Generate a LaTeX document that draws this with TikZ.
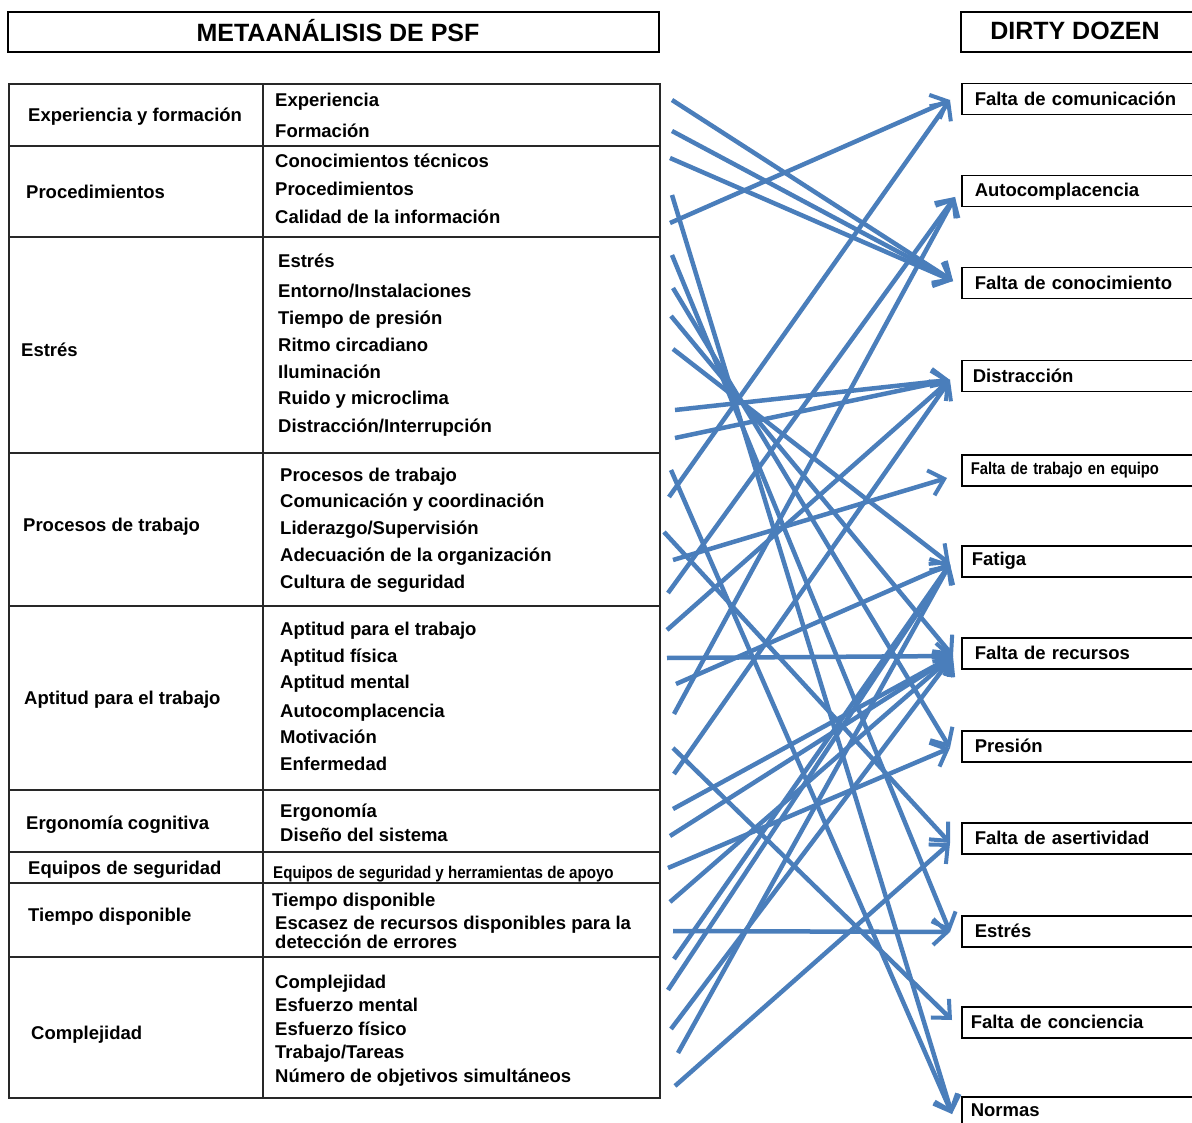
\documentclass[tikz,border=0pt]{standalone}
\usepackage{fontspec}
\setmainfont{Liberation Sans}
\usetikzlibrary{arrows.meta}
\definecolor{arrowblue}{RGB}{74,126,187}
\definecolor{tline}{RGB}{40,40,40}
\begin{document}
\begin{tikzpicture}[x=1pt,y=-1pt,
  itm/.style={anchor=west,inner sep=0pt,yshift=-2.5pt,text height=13pt,text depth=4pt,font=\fontsize{18.5}{20}\selectfont\bfseries},
  head/.style={anchor=center,inner sep=0pt,font=\fontsize{25}{27}\selectfont\bfseries},
  dbox/.style={draw=black,line width=1.5pt,anchor=north west,minimum height=31pt,text width=220pt,inner xsep=13pt,inner ysep=0pt,align=left,font=\fontsize{18.5}{20}\selectfont\bfseries},
  arr/.style={draw=arrowblue,line width=4.5pt,-{Straight Barb[length=14pt,width=26pt,line width=4pt]}}]
\useasboundingbox (0,0) rectangle (1192,1123);
\clip (0,0) rectangle (1192,1123);
\fill[white] (0,0) rectangle (1192,1123);
% headers
\draw[line width=2pt] (8,12) rectangle (659,52);
\node[head] (h1) at (338,31) {METAANÁLISIS DE PSF};
\draw[line width=2pt] (961,12) rectangle (1200,52);
\node[head] (h2) at (1075,31) {DIRTY DOZEN};
% table
\draw[tline,line width=1.5pt] (9,84) rectangle (660,1098);
\draw[tline,line width=1.5pt] (263,84) -- (263,1098);
\foreach \yy in {146,237,453,606,790,852,883,957}
  \draw[tline,line width=1.5pt] (9,\yy) -- (660,\yy);
% left column
\node[itm] (l1) at (28,115) {Experiencia y formación};
\node[itm] (l2) at (26,192) {Procedimientos};
\node[itm] (l3) at (21,349) {Estrés};
\node[itm] (l4) at (23,524) {Procesos de trabajo};
\node[itm] (l5) at (24,697) {Aptitud para el trabajo};
\node[itm] (l6) at (26,822) {Ergonomía cognitiva};
\node[itm] (l7) at (28,867) {Equipos de seguridad};
\node[itm] (l8) at (28,914) {Tiempo disponible};
\node[itm] (l9) at (31,1032) {Complejidad};
% right column
\node[itm] (r11) at (275,100) {Experiencia};
\node[itm] (r12) at (275,131) {Formación};
\node[itm] (r21) at (275,161) {Conocimientos técnicos};
\node[itm] (r22) at (275,189) {Procedimientos};
\node[itm] (r23) at (275,217) {Calidad de la información};
\node[itm] (r31) at (278,261) {Estrés};
\node[itm] (r32) at (278,291) {Entorno/Instalaciones};
\node[itm] (r33) at (278,318) {Tiempo de presión};
\node[itm] (r34) at (278,345) {Ritmo circadiano};
\node[itm] (r35) at (278,371) {Iluminación};
\node[itm] (r36) at (278,398) {Ruido y microclima};
\node[itm] (r37) at (278,425) {Distracción/Interrupción};
\node[itm] (r41) at (280,474) {Procesos de trabajo};
\node[itm] (r42) at (280,500) {Comunicación y coordinación};
\node[itm] (r43) at (280,527) {Liderazgo/Supervisión};
\node[itm] (r44) at (280,554) {Adecuación de la organización};
\node[itm] (r45) at (280,581) {Cultura de seguridad};
\node[itm] (r51) at (280,628) {Aptitud para el trabajo};
\node[itm] (r52) at (280,655) {Aptitud física};
\node[itm] (r53) at (280,681) {Aptitud mental};
\node[itm] (r54) at (280,710) {Autocomplacencia};
\node[itm] (r55) at (280,736) {Motivación};
\node[itm] (r56) at (280,763) {Enfermedad};
\node[itm] (r61) at (280,810) {Ergonomía};
\node[itm] (r62) at (280,834) {Diseño del sistema};
\node[itm] (r71) at (273,871) {\scalebox{0.89}[1]{\fontsize{17}{19}\selectfont Equipos de seguridad y herramientas de apoyo}};
\node[itm] (r81) at (272,899) {Tiempo disponible};
\node[itm] (r82) at (275,922) {Escasez de recursos disponibles para la};
\node[itm] (r83) at (275,941) {detección de errores};
\node[itm] (r91) at (275,981) {Complejidad};
\node[itm] (r92) at (275,1004) {Esfuerzo mental};
\node[itm] (r93) at (275,1028) {Esfuerzo físico};
\node[itm] (r94) at (275,1051) {Trabajo/Tareas};
\node[itm] (r95) at (275,1075) {Número de objetivos simultáneos};
% dirty dozen boxes
\node[dbox] (d1) at (961,83) {Falta de comunicación};
\node[dbox] (d2) at (961,175) {Autocomplacencia};
\node[dbox] (d3) at (961,267) {Falta de conocimiento};
\node[dbox,inner xsep=11pt] (d4) at (961,360) {Distracción};
\node[dbox,inner xsep=9pt] (d5) at (961,454) {\scalebox{0.87}[1]{\fontsize{17}{19}\selectfont Falta de trabajo en equipo}};
\node[dbox,inner xsep=10pt] (d6) at (961,545) {Fatiga};
\node[dbox] (d7) at (961,637) {Falta de recursos};
\node[dbox] (d8) at (961,730) {Presión};
\node[dbox] (d9) at (961,822) {Falta de asertividad};
\node[dbox] (d10) at (961,915) {Estrés};
\node[dbox,inner xsep=9pt] (d11) at (961,1006) {Falta de conciencia};
\node[dbox,inner xsep=9pt,minimum height=27pt] (d12) at (961,1096) {Normas};
% arrow targets
\coordinate (tComun) at (950,100);
\coordinate (tAuto) at (955,197);
\coordinate (tConoc) at (953,281);
\coordinate (tDistr) at (950,380);
\coordinate (tEquipo) at (947,478);
\coordinate (tFatiga) at (950,564);
\coordinate (tRec) at (953,656);
\coordinate (tPres) at (950,748);
\coordinate (tAsert) at (950,843);
\coordinate (tEstres) at (950,932);
\coordinate (tConc) at (952,1020);
\coordinate (tNormas) at (952,1114);
% arrow starts
\coordinate (s1) at (672,100);
\coordinate (s2) at (672,131);
\coordinate (s3) at (670,158);
\coordinate (s4) at (672,195);
\coordinate (s5) at (670,223);
\coordinate (s6) at (672,255);
\coordinate (s7) at (673,288);
\coordinate (s8) at (671,316);
\coordinate (s9) at (673,349);
\coordinate (s10) at (675,410);
\coordinate (s11) at (675,438);
\coordinate (s12) at (671,470);
\coordinate (s13) at (669,497);
\coordinate (s14) at (664,532);
\coordinate (s15) at (673,560);
\coordinate (s16) at (668,593);
\coordinate (s17) at (667,630);
\coordinate (s18) at (667,658);
\coordinate (s19) at (676,684);
\coordinate (s20) at (674,714);
\coordinate (s21) at (673,748);
\coordinate (s22) at (674,774);
\coordinate (s23) at (673,809);
\coordinate (s24) at (670,836);
\coordinate (s25) at (668,868);
\coordinate (s26) at (670,902);
\coordinate (s27) at (673,931);
\coordinate (s28) at (674,959);
\coordinate (s29) at (668,990);
\coordinate (s30) at (671,1029);
\coordinate (s31) at (678,1053);
\coordinate (s32) at (675,1086);
% arrows
\draw[arr] (s1) -- (tConoc);
\draw[arr] (s2) -- (tConoc);
\draw[arr] (s3) -- (tConoc);
\draw[arr] (s4) -- (tNormas);
\draw[arr] (s5) -- (tComun);
\draw[arr] (s6) -- (tEstres);
\draw[arr] (s7) -- (tPres);
\draw[arr] (s8) -- (tRec);
\draw[arr] (s9) -- (tFatiga);
\draw[arr] (s10) -- (tDistr);
\draw[arr] (s11) -- (tDistr);
\draw[arr] (s12) -- (tNormas);
\draw[arr] (s13) -- (tComun);
\draw[arr] (s14) -- (tAsert);
\draw[arr] (s15) -- (tEquipo);
\draw[arr] (s16) -- (tAuto);
\draw[arr] (s17) -- (tDistr);
\draw[arr] (s18) -- (tRec);
\draw[arr] (s19) -- (tFatiga);
\draw[arr] (s20) -- (tAuto);
\draw[arr] (s21) -- (tConc);
\draw[arr] (s22) -- (tDistr);
\draw[arr] (s23) -- (tRec);
\draw[arr] (s24) -- (tRec);
\draw[arr] (s25) -- (tPres);
\draw[arr] (s26) -- (tRec);
\draw[arr] (s27) -- (tEstres);
\draw[arr] (s28) -- (tFatiga);
\draw[arr] (s29) -- (tFatiga);
\draw[arr] (s30) -- (tRec);
\draw[arr] (s31) -- (tFatiga);
\draw[arr] (s32) -- (tAsert);
\end{tikzpicture}
\end{document}
